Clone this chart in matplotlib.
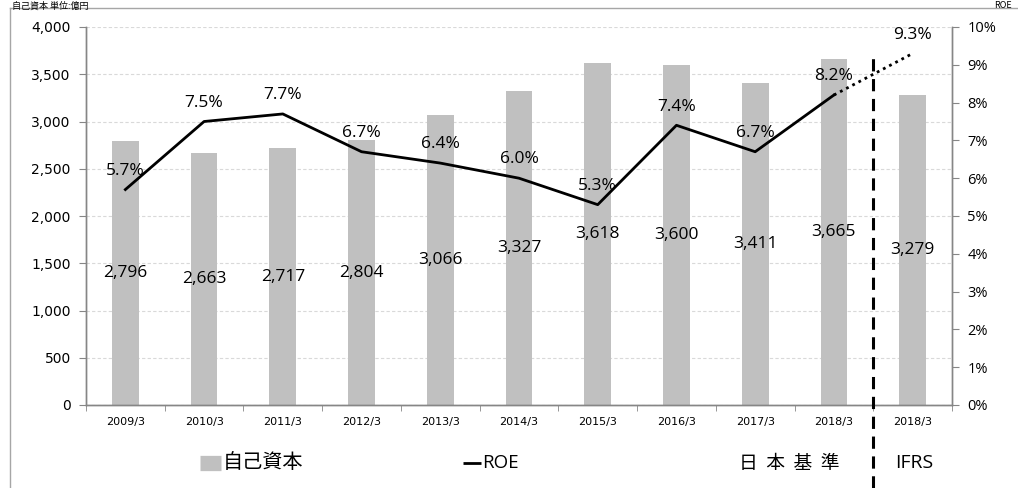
import numpy as np
import matplotlib
matplotlib.use("Agg")
import matplotlib.pyplot as plt
from matplotlib.lines import Line2D
from matplotlib.ticker import FuncFormatter

plt.rcParams['font.family'] = ['Noto Sans CJK JP', 'DejaVu Sans']

# data
categories = ["2009/3", "2010/3", "2011/3", "2012/3", "2013/3", "2014/3",
              "2015/3", "2016/3", "2017/3", "2018/3", "2018/3"]
equity = [2796, 2663, 2717, 2804, 3066, 3327, 3618, 3600, 3411, 3665, 3279]
roe = [5.7, 7.5, 7.7, 6.7, 6.4, 6.0, 5.3, 7.4, 6.7, 8.2, 9.3]

W, H = 1018, 488
fig = plt.figure(figsize=(W / 100, H / 100), dpi=100)
ax = fig.add_axes([86 / W, 1 - 405 / H, (952 - 86) / W, (405 - 27) / H])
ax2 = ax.twinx()

x = np.arange(len(categories))
grey = "#c0c0c0"
axis_col = "#868686"
lab_font = ['Open Sans', 'DejaVu Sans']

ax.bar(x, equity, width=0.34, color=grey, zorder=2)
for xi, v in zip(x, equity):
    ax.text(xi, v / 2, f"{v:,}", ha="center", va="center", fontsize=12.5,
            family=lab_font, zorder=5)

ax.set_xlim(-0.5, len(categories) - 0.5)
ax.set_ylim(0, 4000)
ax.set_yticks(np.arange(0, 4001, 500))
ax.yaxis.set_major_formatter(FuncFormatter(lambda v, p: f"{int(v):,}"))
ax.grid(axis="y", color="#d9d9d9", linestyle=(0, (3, 2)), linewidth=0.8, zorder=0)
ax.set_axisbelow(True)
ax.set_xticks(x)
ax.set_xticklabels(categories, fontsize=8, family=['DejaVu Sans'])
ax.set_xticks(np.arange(-0.5, len(categories)), minor=True)
ax.tick_params(axis="x", which="major", length=0, pad=9)
ax.tick_params(axis="x", which="minor", length=4, color=axis_col)
ax.tick_params(axis="y", length=5, color=axis_col, labelsize=10, pad=6)
for lab in ax.get_yticklabels():
    lab.set_family(['DejaVu Sans'])

# ROE line
ax2.plot(x[:-1], roe[:-1], color="black", linewidth=2, zorder=4)
ax2.plot(x[-2:], roe[-2:], color="black", linewidth=2, linestyle=(0, (1, 1.5)), zorder=4)
for xi, v in zip(x, roe):
    ax2.annotate(f"{v:.1f}%", (xi, v), xytext=(0, 13.5), textcoords="offset points",
                 ha="center", va="center", fontsize=12.5, family=lab_font)
ax2.set_ylim(0, 10)
ax2.set_yticks(np.arange(0, 11, 1))
ax2.yaxis.set_major_formatter(FuncFormatter(lambda v, p: f"{int(v)}%"))
ax2.tick_params(axis="y", length=5, color=axis_col, labelsize=10.5, pad=6)
for lab in ax2.get_yticklabels():
    lab.set_family(lab_font)

for a in (ax, ax2):
    a.spines["top"].set_visible(False)
    for s in ("left", "right", "bottom"):
        a.spines[s].set_color(axis_col)
        a.spines[s].set_linewidth(1)

# outer frame (left and top)
fig.add_artist(Line2D([9.5 / W, 9.5 / W], [0, 1 - 8 / H], color="#a6a6a6", lw=1))
fig.add_artist(Line2D([9.5 / W, 1], [1 - 8 / H, 1 - 8 / H], color="#a6a6a6", lw=1))
fig.text(12 / W, 1 - 1 / H, "自己資本 単位:億円", fontsize=6.5, va="top", ha="left")
fig.text(1012 / W, 1 - 1 / H, "ROE", fontsize=6.5, va="top", ha="right")

# standard separator
fig.add_artist(Line2D([873 / W, 873 / W], [0, 1 - 55 / H], color="black", lw=2.2,
                      linestyle=(0, (4, 2.5))))

# legend texts
ly = 1 - 463 / H
fig.add_artist(Line2D([200 / W, 221 / W], [ly] * 2, color=grey, lw=11,
                      solid_capstyle="butt"))
fig.text(223 / W, ly, "自己資本", fontsize=14.5, va="center", ha="left")
fig.add_artist(Line2D([463 / W, 481 / W], [ly] * 2, color="black", lw=2,
                      solid_capstyle="butt"))
fig.text(482 / W, ly, "ROE", fontsize=13.5, va="center", ha="left", family=lab_font)
fig.text(789 / W, ly, "日  本  基  準", fontsize=13.5, va="center", ha="center")
fig.text(914 / W, ly, "IFRS", fontsize=14, va="center", ha="center", family=lab_font)

fig.savefig("out.png", dpi=100)
